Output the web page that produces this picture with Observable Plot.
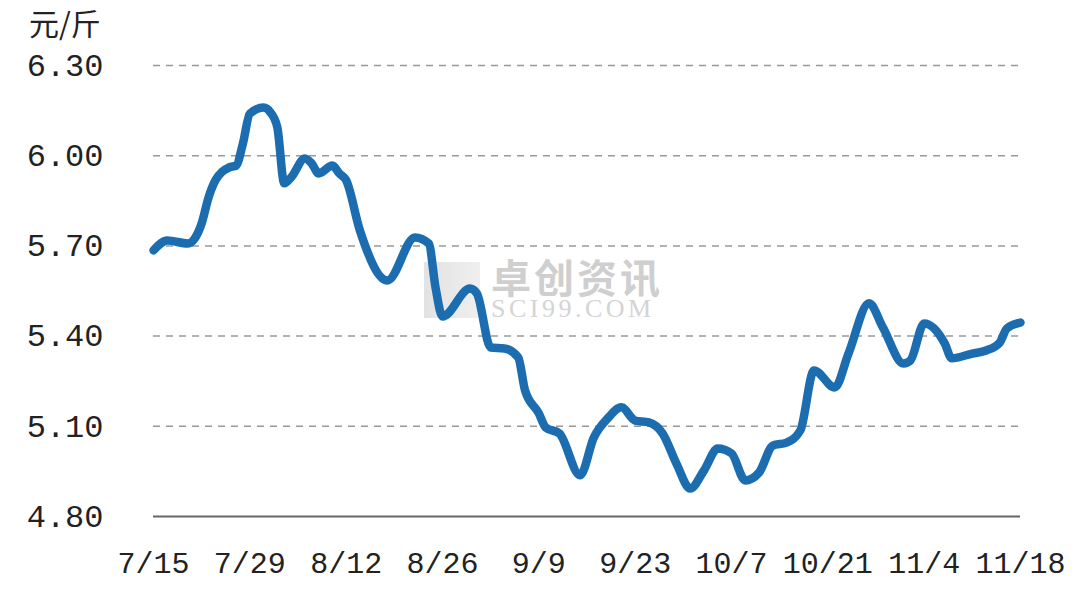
<!DOCTYPE html>
<html><head><meta charset="utf-8">
<script src="https://cdn.jsdelivr.net/npm/d3@7"></script>
<script src="https://cdn.jsdelivr.net/npm/@observablehq/plot@0.6"></script>
<style>
html,body{margin:0;padding:0;background:#fff;}
#wrap{position:relative;width:1080px;height:591px;}
#unit{position:absolute;left:29px;top:0px;font-family:"Noto Sans CJK SC";font-size:30px;color:#222;}
#logo{position:absolute;left:424px;top:262px;width:56px;height:56px;background:linear-gradient(90deg,#e2e2e2,#efefef);}
#wm{position:absolute;left:491px;top:255px;white-space:pre-line;font-family:"Liberation Serif";font-size:26px;line-height:24px;color:#d4d4d4;letter-spacing:3.5px;}
#wm::first-line{font-family:"Noto Sans CJK SC";font-size:40px;line-height:42px;font-weight:bold;color:#cfcfcf;letter-spacing:3px;}
</style></head>
<body><div id="wrap"><div id="logo"></div><div id="wm"></div><div id="unit"></div></div>
<script>
const unit = "元/斤";
const watermark = ["卓创资讯", "SCI99.COM"];
const dates = ["07-15","07-17","07-20","07-21","07-22","07-23","07-24","07-26","07-27","07-28","07-29","07-31","08-01","08-02","08-03","08-04","08-06","08-07","08-08","08-10","08-11","08-12","08-14","08-18","08-22","08-24","08-25","08-26","08-30","08-31","09-02","09-04","09-06","09-07","09-09","09-10","09-12","09-15","09-17","09-19","09-21","09-23","09-25","09-27","09-29","10-01","10-03","10-05","10-07","10-09","10-11","10-13","10-15","10-17","10-19","10-22","10-24","10-27","10-29","11-01","11-02","11-04","11-07","11-08","11-11","11-13","11-15","11-16","11-18"];
const prices = [5.685,5.718,5.708,5.725,5.775,5.861,5.918,5.961,5.967,6.041,6.140,6.160,6.144,6.094,5.908,5.928,5.991,5.974,5.941,5.967,5.941,5.918,5.751,5.585,5.728,5.708,5.560,5.465,5.558,5.542,5.362,5.359,5.329,5.219,5.143,5.096,5.076,4.937,5.063,5.126,5.163,5.119,5.113,5.076,4.976,4.893,4.953,5.026,5.010,4.920,4.946,5.036,5.046,5.086,5.286,5.229,5.342,5.509,5.429,5.309,5.319,5.442,5.375,5.326,5.342,5.352,5.379,5.425,5.445];
const xLabels = ["7/15","7/29","8/12","8/26","9/9","9/23","10/7","10/21","11/4","11/18"];
const yTicks = [4.80,5.10,5.40,5.70,6.00,6.30];
const year = 2019;

document.getElementById("unit").textContent = unit;
document.getElementById("wm").textContent = watermark.join("\n");

const toDate = s => { const [m,d] = s.split(/[-\/]/).map(Number); return new Date(Date.UTC(year, m-1, d)); };
const data = dates.map((s,i) => ({date: toDate(s), price: prices[i]}));
const xTicks = xLabels.map(toDate);
const labelOf = new Map(xTicks.map((t,i)=>[+t, xLabels[i]]));

const chart = Plot.plot({
  width: 1080, height: 591,
  marginLeft: 153, marginRight: 60, marginTop: 65, marginBottom: 75,
  style: {fontFamily: "Liberation Mono", fontSize: "30px", color: "#222", background: "transparent"},
  x: {type: "utc", domain: [xTicks[0], xTicks[xTicks.length-1]], ticks: xTicks, tickFormat: d => labelOf.get(+d), tickSize: 0, tickPadding: 35, label: null},
  y: {domain: [4.80, 6.30], ticks: yTicks, tickFormat: d => d.toFixed(2), tickSize: 0, tickPadding: 50, label: null},
  marks: [
    Plot.ruleY(yTicks.slice(1), {stroke: "#999", strokeWidth: 1.5, strokeDasharray: "7,6"}),
    Plot.ruleY([yTicks[0]], {stroke: "#666", strokeWidth: 2}),
    Plot.line(data, {x: "date", y: "price", stroke: "#1b6db0", strokeWidth: 8.5, curve: "monotone-x", strokeLinejoin: "round", strokeLinecap: "round"})
  ]
});
chart.style.position = "absolute"; chart.style.left = "0"; chart.style.top = "0";
chart.querySelectorAll('g[aria-label="y-axis tick label"] text').forEach(t => t.style.fontSize = "32px");
document.getElementById("wrap").appendChild(chart);
</script>
</body></html>
